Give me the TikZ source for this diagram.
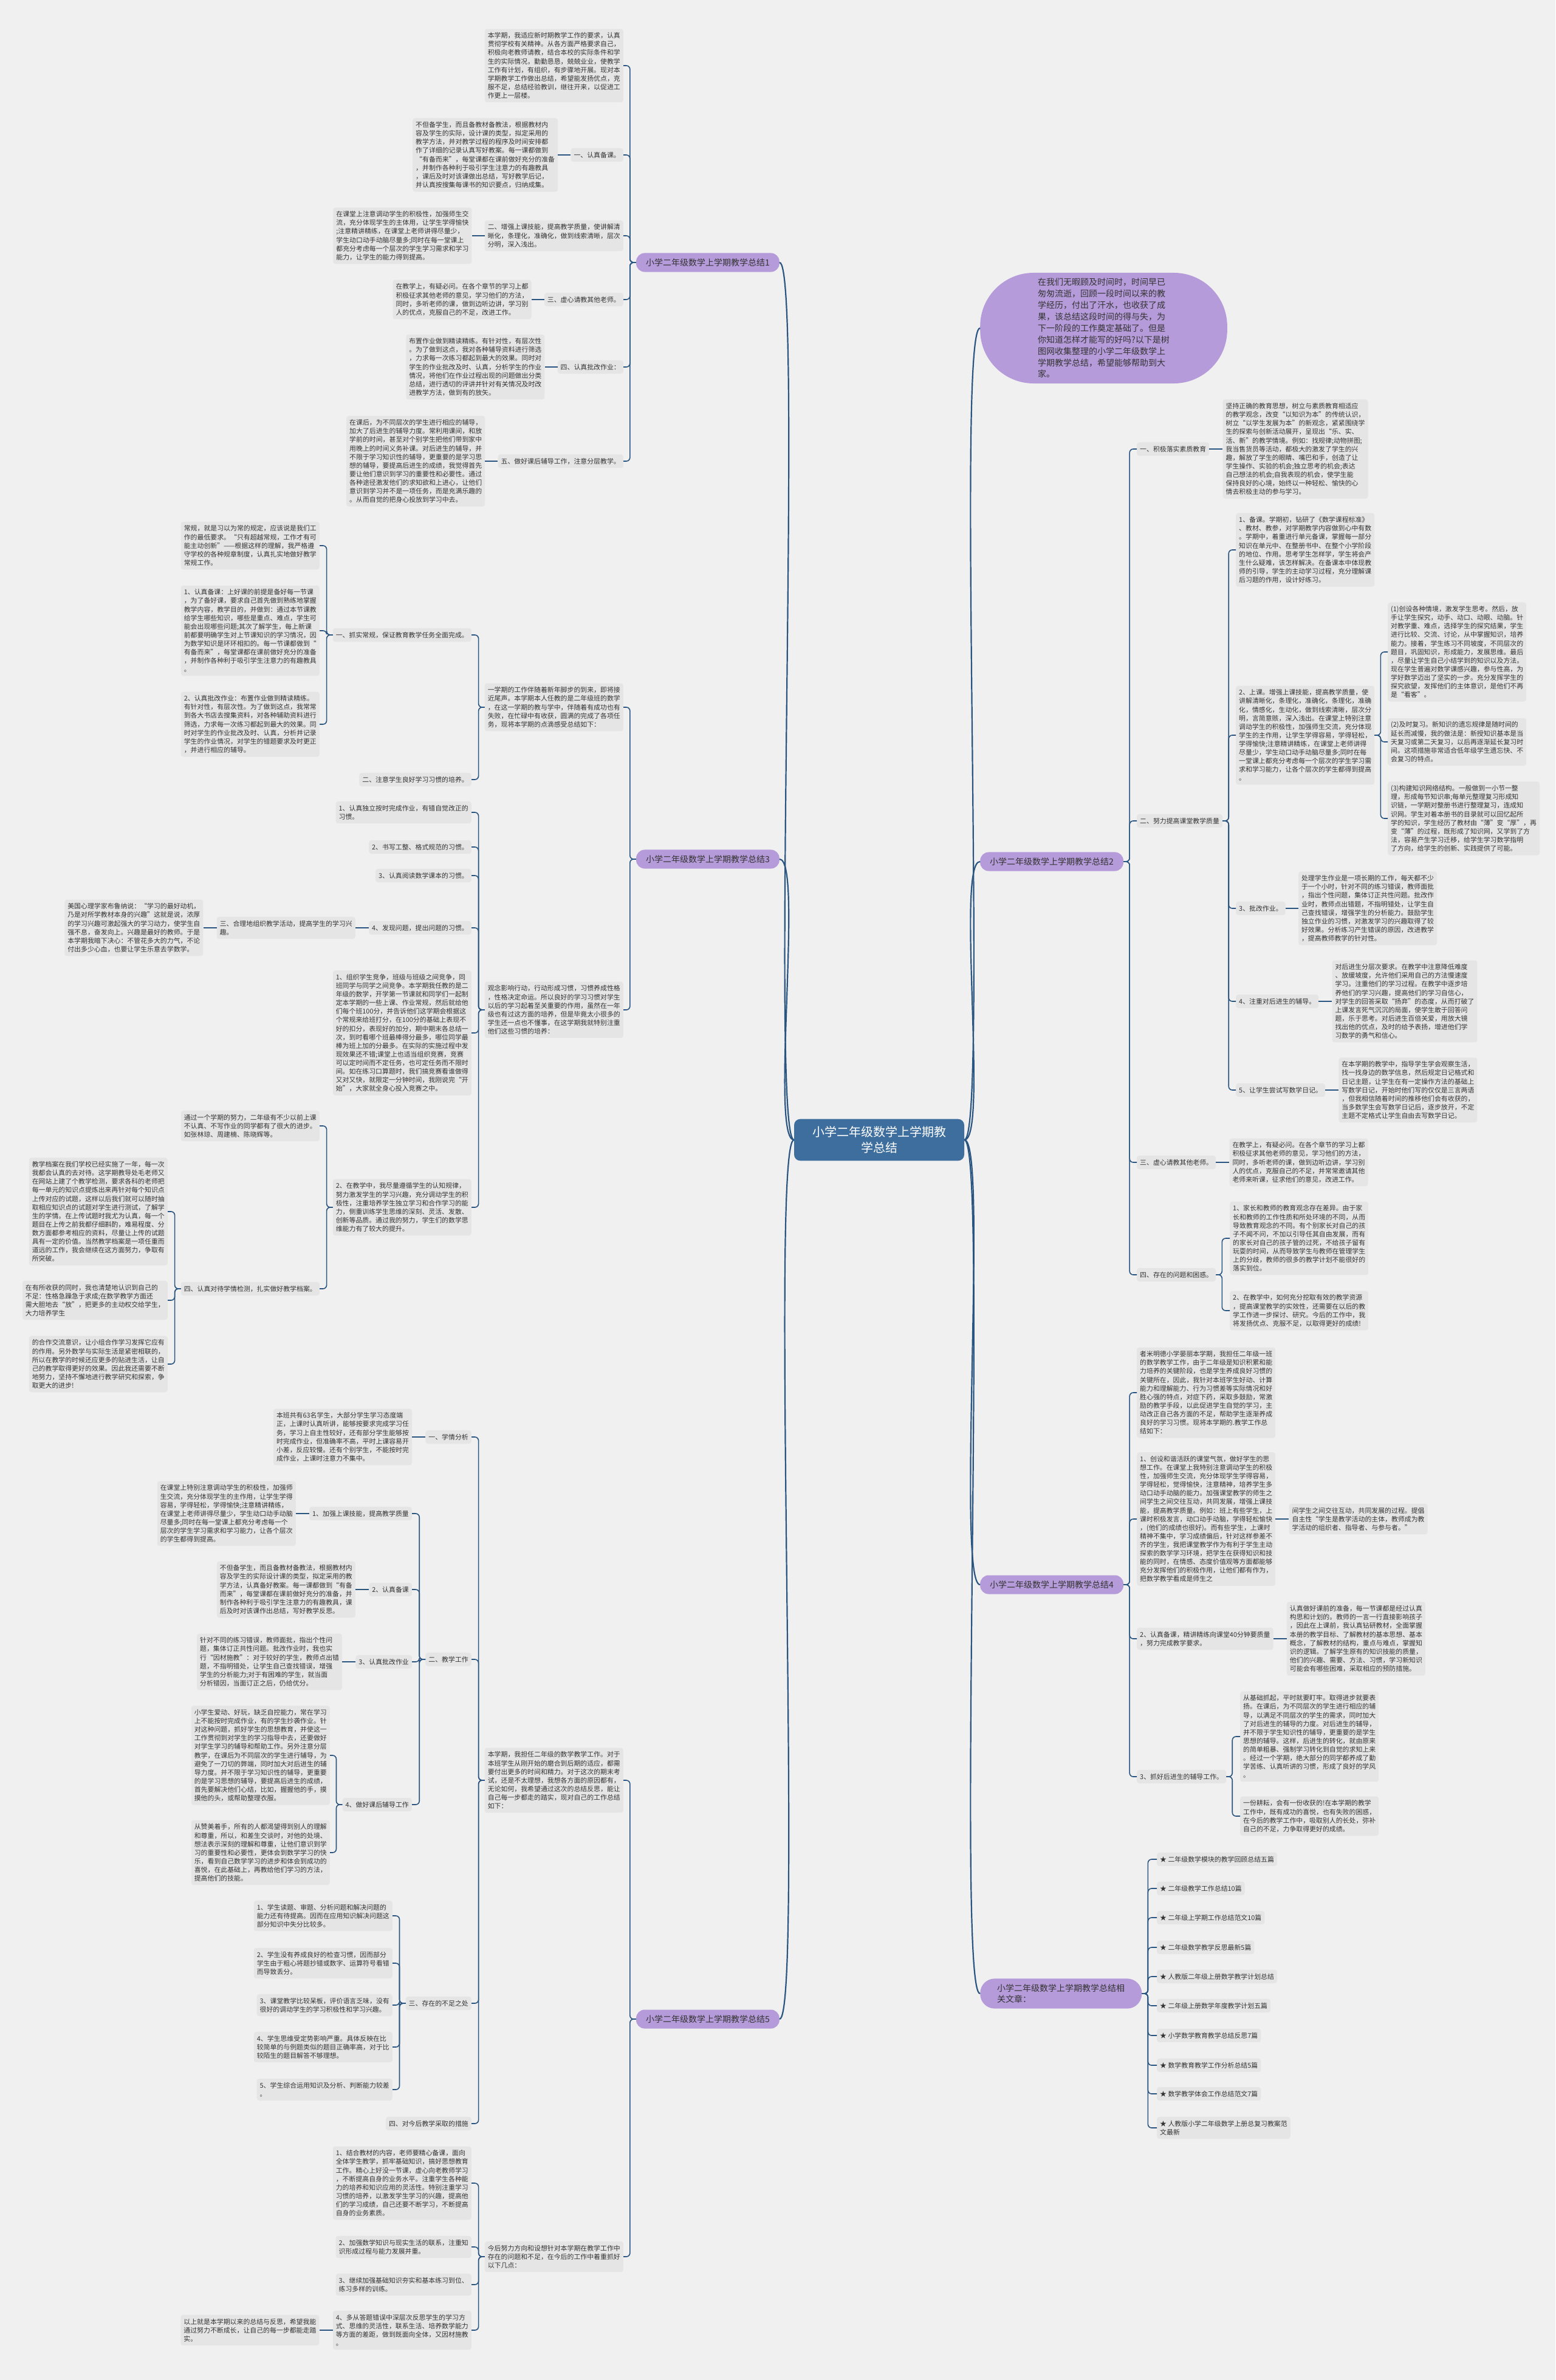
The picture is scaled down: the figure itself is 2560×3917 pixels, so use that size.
\documentclass[tikz,border=0pt]{standalone}
\usepackage{fontspec}
\newfontfamily\cjk{Noto Sans CJK SC}
\definecolor{bgc}{HTML}{F0F0F0}
\definecolor{boxc}{HTML}{E5E5E5}
\definecolor{txt}{HTML}{333333}
\definecolor{lc}{HTML}{2A5580}
\definecolor{purp}{HTML}{B59BD9}
\definecolor{rootc}{HTML}{3E6E9E}
\newcommand\tbf{\cjk\fontsize{10.9bp}{14.1bp}\selectfont}
\newcommand\brf{\cjk\fontsize{14bp}{18.6bp}\selectfont}
\newcommand\rtf{\cjk\fontsize{20bp}{26bp}\selectfont}
\tikzset{
 tb/.style={fill=boxc, rounded corners=4bp, inner xsep=5bp, inner ysep=6bp, align=left, font=\tbf, text=txt},
 brn/.style={fill=purp, rounded corners=14bp, inner xsep=16bp, inner ysep=9bp, align=left, font=\brf, text=txt},
 conn/.style={draw=lc, line width=1.6bp, rounded corners=6bp},
 rcn/.style={draw=lc, line width=2.2bp},
}
\newcommand\lnk[2]{\draw[conn] (#1.west) -- ++(-10,0) |- (#2.east);}
\newcommand\rnk[2]{\draw[conn] (#1.east) -- ++(10,0) |- (#2.west);}
\newcommand\lsg[2]{\draw[conn] (#1.west) -- (#2.east);}
\newcommand\rsg[2]{\draw[conn] (#1.east) -- (#2.west);}
\begin{document}
\begin{tikzpicture}[x=1bp,y=-1bp]
\fill[bgc] (0,0) rectangle (2560,3917);
\useasboundingbox (0,0) rectangle (2560,3917);

% ---------- root ----------
\node[fill=rootc, rounded corners=10bp, inner xsep=30bp, inner ysep=12bp, align=center, font=\rtf, text=white] (root) at (1447,1876) {小学二年级数学上学期教\\学总结};

% ---------- branch 1 ----------
\node[brn, anchor=east] (b1) at (1283,432) {小学二年级数学上学期教学总结1};
\node[tb, anchor=east] (b1a) at (1026,108) {本学期，我适应新时期教学工作的要求，认真\\贯彻学校有关精神。从各方面严格要求自己，\\积极向老教师请教，结合本校的实际条件和学\\生的实际情况，勤勤恳恳，兢兢业业，使教学\\工作有计划，有组织，有步骤地开展。现对本\\学期教学工作做出总结，希望能发扬优点，克\\服不足，总结经验教训，继往开来，以促进工\\作更上一层楼。};
\node[tb, anchor=east] (b1b) at (1026,255) {一、认真备课。};
\node[tb, anchor=east] (b1bc) at ([xshift=-21bp]b1b.west) {不但备学生，而且备教材备教法，根据教材内\\容及学生的实际，设计课的类型，拟定采用的\\教学方法，并对教学过程的程序及时间安排都\\作了详细的记录认真写好教案。每一课都做到\\“有备而来”，每堂课都在课前做好充分的准备\\，并制作各种利于吸引学生注意力的有趣教具\\，课后及时对该课做出总结，写好教学后记，\\并认真按搜集每课书的知识要点，归纳成集。};
\node[tb, anchor=east] (b1c) at (1026,388) {二、增强上课技能，提高教学质量，使讲解清\\晰化，条理化，准确化，做到线索清晰，层次\\分明，深入浅出。};
\node[tb, anchor=east] (b1cc) at ([xshift=-21bp]b1c.west) {在课堂上注意调动学生的积极性，加强师生交\\流，充分体现学生的主体用，让学生学得愉快\\;注意精讲精练，在课堂上老师讲得尽量少，\\学生动口动手动脑尽量多;同时在每一堂课上\\都充分考虑每一个层次的学生学习需求和学习\\能力，让学生的能力得到提高。};
\node[tb, anchor=east] (b1d) at (1026,493) {三、虚心请教其他老师。};
\node[tb, anchor=east] (b1dc) at ([xshift=-21bp]b1d.west) {在教学上，有疑必问。在各个章节的学习上都\\积极征求其他老师的意见，学习他们的方法，\\同时，多听老师的课，做到边听边讲，学习别\\人的优点，克服自己的不足，改进工作。};
\node[tb, anchor=east] (b1e) at (1026,604) {四、认真批改作业：};
\node[tb, anchor=east] (b1ec) at ([xshift=-21bp]b1e.west) {布置作业做到精读精练。有针对性，有层次性\\。为了做到这点，我对各种辅导资料进行筛选\\，力求每一次练习都起到最大的效果。同时对\\学生的作业批改及时、认真，分析学生的作业\\情况，将他们在作业过程出现的问题做出分类\\总结，进行透切的评讲并针对有关情况及时改\\进教学方法，做到有的放矢。};
\node[tb, anchor=east] (b1f) at (1026,759) {五、做好课后辅导工作，注意分层教学。};
\node[tb, anchor=east] (b1fc) at ([xshift=-21bp]b1f.west) {在课后，为不同层次的学生进行相应的辅导，\\加大了后进生的辅导力度。常利用课间，和放\\学前的时间，甚至对个别学生把他们带到家中\\用晚上的时间义务补课。对后进生的辅导，并\\不限于学习知识性的辅导，更重要的是学习思\\想的辅导，要提高后进生的成绩，我觉得首先\\要让他们意识到学习的重要性和必要性。通过\\各种途径激发他们的求知欲和上进心，让他们\\意识到学习并不是一项任务，而是充满乐趣的\\。从而自觉的把身心投放到学习中去。};
\foreach \c in {b1a,b1b,b1c,b1d,b1e,b1f} {\lnk{b1}{\c}}
\lsg{b1b}{b1bc}\lsg{b1c}{b1cc}\lsg{b1d}{b1dc}\lsg{b1e}{b1ec}\lsg{b1f}{b1fc}

% ---------- branch 3 ----------
\node[brn, anchor=east] (b3) at (1283,1414) {小学二年级数学上学期教学总结3};
\node[tb, anchor=east] (b3a) at (1026,1164) {一学期的工作伴随着新年脚步的到来，即将接\\近尾声。本学期本人任教的是二年级班的数学\\，在这一学期的教与学中，伴随着有成功也有\\失败，在忙碌中有收获，圆满的完成了各项任\\务，现将本学期的点滴感受总结如下：};
\node[tb, anchor=east] (b3a1) at (776,1045) {一、抓实常规，保证教育教学任务全面完成。};
\node[tb, anchor=east] (b3a1a) at (526,898) {常规，就是习以为常的规定，应该说是我们工\\作的最低要求。“只有超越常规，工作才有可\\能主动创新”——根据这样的理解，我严格遵\\守学校的各种规章制度，认真扎实地做好教学\\常规工作。};
\node[tb, anchor=east] (b3a1b) at (526,1038) {1、认真备课：上好课的前提是备好每一节课\\，为了备好课，要求自己首先做到熟练地掌握\\教学内容，教学目的，并做到：通过本节课教\\给学生哪些知识，哪些是重点、难点，学生可\\能会出现哪些问题;其次了解学生，每上新课\\前都要明确学生对上节课知识的学习情况，因\\为数学知识是环环相扣的。每一节课都做到“\\有备而来”，每堂课都在课前做好充分的准备\\，并制作各种利于吸引学生注意力的有趣教具\\。};
\node[tb, anchor=east] (b3a1c) at (526,1192) {2、认真批改作业：布置作业做到精读精练。\\有针对性，有层次性。为了做到这点，我常常\\到各大书店去搜集资料，对各种辅助资料进行\\筛选，力求每一次练习都起到最大的效果。同\\时对学生的作业批改及时、认真，分析并记录\\学生的作业情况，对学生的错题要求及时更正\\，并进行相应的辅导。};
\node[tb, anchor=east] (b3a2) at (776,1283) {二、注意学生良好学习习惯的培养。};
\node[tb, anchor=east] (b3b) at (1026,1662) {观念影响行动，行动形成习惯，习惯养成性格\\，性格决定命运。所以良好的学习习惯对学生\\以后的学习起着至关重要的作用，虽然在一年\\级也有过这方面的培养，但是毕竟太小很多的\\学生还一点也不懂事，在这学期我就特别注重\\他们这些习惯的培养：};
\node[tb, anchor=east] (b3b1) at (776,1337) {1、认真独立按时完成作业，有错自觉改正的\\习惯。};
\node[tb, anchor=east] (b3b2) at (776,1394) {2、书写工整、格式规范的习惯。};
\node[tb, anchor=east] (b3b3) at (776,1441) {3、认真阅读数学课本的习惯。};
\node[tb, anchor=east] (b3b4) at (776,1527) {4、发现问题，提出问题的习惯。};
\node[tb, anchor=east] (b3b4c) at ([xshift=-22bp]b3b4.west) {三、合理地组织教学活动，提高学生的学习兴\\趣。};
\node[tb, anchor=east] (b3b4cc) at ([xshift=-22bp]b3b4c.west) {美国心理学家布鲁纳说：“学习的最好动机，\\乃是对所学教材本身的兴趣”这就是说，浓厚\\的学习兴趣可激起强大的学习动力，使学生自\\强不息，奋发向上。兴趣是最好的教师。于是\\本学期我暗下决心：不管花多大的力气，不论\\付出多少心血，也要让学生乐意去学数学。};
\node[tb, anchor=east] (b3b5) at (776,1700) {1、组织学生竞争，班级与班级之间竞争，同\\班同学与同学之间竞争。本学期我任教的是二\\年级的数学，开学第一节课就和同学们一起制\\定本学期的一些上课、作业常规，然后就给他\\们每个班100分，并告诉他们这学期会根据这\\个常规来给班打分，在100分的基础上表现不\\好的扣分，表现好的加分，期中期末各总结一\\次，到时看哪个班最棒得分最多，哪位同学最\\棒为班上加的分最多。在实际的实施过程中发\\现效果还不错;课堂上也适当组织竞赛，竞赛\\可以定时间而不定任务，也可定任务而不限时\\间。如在练习口算题时，我们搞竞赛看谁做得\\又对又快，就限定一分钟时间，我刚说完“开\\始”，大家就全身心投入竞赛之中。};
\node[tb, anchor=east] (b3b6) at (776,1987) {2、在教学中，我尽量遵循学生的认知规律，\\努力激发学生的学习兴趣，充分调动学生的积\\极性，注重培养学生独立学习和合作学习的能\\力，侧重训练学生思维的深刻、灵活、发散、\\创新等品质。通过我的努力，学生们的数学思\\维能力有了较大的提升。};
\node[tb, anchor=east] (b3b6a) at (526,1853) {通过一个学期的努力，二年级有不少以前上课\\不认真、不写作业的同学都有了很大的进步。\\如张林琼、周建楠、陈晓辉等。};
\node[tb, anchor=east] (b3b6b) at (526,2121) {四、认真对待学情检测，扎实做好教学档案。};
\node[tb, anchor=east] (b3b6b1) at (276,1994) {教学档案在我们学校已经实施了一年，每一次\\我都会认真的去对待。这学期教导处毛老师又\\在网站上建了个教学检测，要求各科的老师把\\每一单元的知识点提炼出来再针对每个知识点\\上传对应的试题，这样以后我们就可以随时抽\\取相应知识点的试题对学生进行测试，了解学\\生的学情。在上传试题时我尤为认真，每一个\\题目在上传之前我都仔细斟酌，难易程度、分\\数方面都参考相应的资料，尽量让上传的试题\\具有一定的价值。当然教学档案是一项任重而\\道远的工作，我会继续在这方面努力，争取有\\所突破。};
\node[tb, anchor=east] (b3b6b2) at (276,2140) {在有所收获的同时，我也清楚地认识到自己的\\不足：性格急躁急于求成;在数学教学方面还\\需大胆地去“放”，把更多的主动权交给学生，\\大力培养学生};
\node[tb, anchor=east] (b3b6b3) at (276,2245) {的合作交流意识，让小组合作学习发挥它应有\\的作用。另外数学与实际生活是紧密相联的，\\所以在教学的时候还应更多的贴进生活，让自\\己的教学取得更好的效果。因此我还需要不断\\地努力，坚持不懈地进行教学研究和探索，争\\取更大的进步!};
\foreach \c in {b3a,b3b} {\lnk{b3}{\c}}
\foreach \c in {b3a1,b3a2} {\lnk{b3a}{\c}}
\foreach \c in {b3a1a,b3a1b,b3a1c} {\lnk{b3a1}{\c}}
\foreach \c in {b3b1,b3b2,b3b3,b3b4,b3b5,b3b6} {\lnk{b3b}{\c}}
\lsg{b3b4}{b3b4c}\lsg{b3b4c}{b3b4cc}
\foreach \c in {b3b6a,b3b6b} {\lnk{b3b6}{\c}}
\foreach \c in {b3b6b1,b3b6b2,b3b6b3} {\lnk{b3b6b}{\c}}

% ---------- branch 5 ----------
\node[brn, anchor=east] (b5) at (1283,3323) {小学二年级数学上学期教学总结5};
\node[tb, anchor=east] (b5a) at (1026,2930) {本学期，我担任二年级的数学教学工作。对于\\本班学生从刚开始的磨合到后期的适应，都需\\要付出更多的时间和精力。对于这次的期末考\\试，还是不太理想，我想各方面的原因都有，\\无论如何，我希望通过这次的总结反思，能让\\自己每一步都走的踏实，现对自己的工作总结\\如下：};
\node[tb, anchor=east] (b5a1) at (776,2365) {一、学情分析};
\node[tb, anchor=east] (b5a1c) at ([xshift=-22bp]b5a1.west) {本班共有63名学生，大部分学生学习态度端\\正，上课时认真听讲，能够按要求完成学习任\\务，学习上自主性较好，还有部分学生能够按\\时完成作业，但准确率不高，平时上课容易开\\小差，反应较慢。还有个别学生，不能按时完\\成作业，上课时注意力不集中。};
\node[tb, anchor=east] (b5a2) at (776,2731) {二、教学工作};
\node[tb, anchor=east] (b5a2a) at (678,2491) {1、加强上课技能，提高教学质量};
\node[tb, anchor=east] (b5a2ac) at ([xshift=-22bp]b5a2a.west) {在课堂上特别注意调动学生的积极性，加强师\\生交流，充分体现学生的主作用，让学生学得\\容易，学得轻松，学得愉快;注意精讲精练，\\在课堂上老师讲得尽量少，学生动口动手动脑\\尽量多;同时在每一堂课上都充分考虑每一个\\层次的学生学习需求和学习能力，让各个层次\\的学生都得到提高。};
\node[tb, anchor=east] (b5a2b) at (678,2616) {2、认真备课};
\node[tb, anchor=east] (b5a2bc) at ([xshift=-22bp]b5a2b.west) {不但备学生，而且备教材备教法，根据教材内\\容及学生的实际设计课的类型，拟定采用的教\\学方法，认真备好教案。每一课都做到“有备\\而来”，每堂课都在课前做好充分的准备，并\\制作各种利于吸引学生注意力的有趣教具，课\\后及时对该课作出总结，写好教学反思。};
\node[tb, anchor=east] (b5a2c) at (678,2735) {3、认真批改作业};
\node[tb, anchor=east] (b5a2cc) at ([xshift=-22bp]b5a2c.west) {针对不同的练习错误，教师面批，指出个性问\\题，集体订正共性问题。批改作业时，我也实\\行“因材施教”：对于较好的学生，教师点出错\\题，不指明错处，让学生自己查找错误，增强\\学生的分析能力;对于有困难的学生，就当面\\分析错因，当面订正之后，仍给优分。};
\node[tb, anchor=east] (b5a2d) at (678,2970) {4、做好课后辅导工作};
\node[tb, anchor=east] (b5a2d1) at (543,2889) {小学生爱动、好玩，缺乏自控能力，常在学习\\上不能按时完成作业，有的学生抄袭作业。针\\对这种问题，抓好学生的思想教育，并使这一\\工作贯彻到对学生的学习指导中去，还要做好\\对学生学习的辅导和帮助工作。另外注意分层\\教学，在课后为不同层次的学生进行辅导，为\\避免了一刀切的弊端，同时加大对后进生的辅\\导力度。并不限于学习知识性的辅导，更重要\\的是学习思想的辅导，要提高后进生的成绩，\\首先要解决他们心结，比如，握握他的手，摸\\摸他的头，或帮助整理衣服。};
\node[tb, anchor=east] (b5a2d2) at (543,3049) {从赞美着手，所有的人都渴望得到别人的理解\\和尊重，所以，和差生交谈时，对他的处境、\\想法表示深刻的理解和尊重，让他们意识到学\\习的重要性和必要性，更体会到数学学习的快\\乐，看到自己数学学习的进步和体会到成功的\\喜悦，在此基础上，再教给他们学习的方法，\\提高他们的技能。};
\node[tb, anchor=east] (b5a3) at (776,3297) {三、存在的不足之处};
\node[tb, anchor=east] (b5a3a) at (646,3153) {1、学生读题、审题、分析问题和解决问题的\\能力还有待提高。因而在应用知识解决问题这\\部分知识中失分比较多。};
\node[tb, anchor=east] (b5a3b) at (646,3231) {2、学生没有养成良好的检查习惯，因而部分\\学生由于粗心将题抄错或数字、运算符号看错\\而导致丢分。};
\node[tb, anchor=east] (b5a3c) at (646,3300) {3、课堂教学比较呆板，评价语言乏味，没有\\很好的调动学生的学习积极性和学习兴趣。};
\node[tb, anchor=east] (b5a3d) at (646,3369) {4、学生思维受定势影响严重。具体反映在比\\较简单的与例题类似的题目正确率高，对于比\\较陌生的题目解答不够理想。};
\node[tb, anchor=east] (b5a3e) at (646,3439) {5、学生综合运用知识及分析、判断能力较差\\。};
\node[tb, anchor=east] (b5a4) at (776,3495) {四、对今后教学采取的措施};
\node[tb, anchor=east] (b5b) at (1026,3714) {今后努力方向和设想针对本学期在教学工作中\\存在的问题和不足，在今后的工作中着重抓好\\以下几点：};
\node[tb, anchor=east] (b5b1) at (776,3593) {1、结合教材的内容，老师要精心备课，面向\\全体学生教学，抓牢基础知识，搞好思想教育\\工作。精心上好没一节课，虚心向老教师学习\\，不断提高自身的业务水平。注重学生各种能\\力的培养和知识应用的灵活性。特别注重学习\\习惯的培养，以激发学生学习的兴趣，提高他\\们的学习成绩，自己还要不断学习，不断提高\\自身的业务素质。};
\node[tb, anchor=east] (b5b2) at (776,3698) {2、加强数学知识与现实生活的联系，注重知\\识形成过程与能力发展并重。};
\node[tb, anchor=east] (b5b3) at (776,3760) {3、继续加强基础知识夯实和基本练习到位、\\练习多样的训练。};
\node[tb, anchor=east] (b5b4) at (776,3835) {4、多从答题错误中深层次反思学生的学习方\\式、思维的灵活性，联系生活、培养数学能力\\等方面的差距，做到既面向全体，又因材施教\\。};
\node[tb, anchor=east] (b5b4c) at ([xshift=-22bp]b5b4.west) {以上就是本学期以来的总结与反思，希望我能\\通过努力不断成长，让自己的每一步都能走踏\\实。};
\foreach \c in {b5a,b5b} {\lnk{b5}{\c}}
\foreach \c in {b5a1,b5a2,b5a3,b5a4} {\lnk{b5a}{\c}}
\lsg{b5a1}{b5a1c}
\foreach \c in {b5a2a,b5a2b,b5a2c,b5a2d} {\lnk{b5a2}{\c}}
\lsg{b5a2a}{b5a2ac}\lsg{b5a2b}{b5a2bc}\lsg{b5a2c}{b5a2cc}
\foreach \c in {b5a2d1,b5a2d2} {\lnk{b5a2d}{\c}}
\foreach \c in {b5a3a,b5a3b,b5a3c,b5a3d,b5a3e} {\lnk{b5a3}{\c}}
\foreach \c in {b5b1,b5b2,b5b3,b5b4} {\lnk{b5b}{\c}}
\lsg{b5b4}{b5b4c}

% ---------- bubble ----------
\node[fill=purp, rounded corners=88bp, inner xsep=95bp, inner ysep=9bp, align=left, font={\cjk\fontsize{14bp}{18.9bp}\selectfont}, text=txt, anchor=west] (bub) at (1613,540) {在我们无暇顾及时间时，时间早已\\匆匆流逝，回顾一段时间以来的教\\学经历，付出了汗水，也收获了成\\果，该总结这段时间的得与失，为\\下一阶段的工作奠定基础了。但是\\你知道怎样才能写的好吗?以下是树\\图网收集整理的小学二年级数学上\\学期教学总结，希望能够帮助到大\\家。};

% ---------- branch 2 ----------
\node[brn, anchor=west] (b2) at (1613,1418) {小学二年级数学上学期教学总结2};
\node[tb, anchor=west] (b2a) at (1871,739) {一、积极落实素质教育};
\node[tb, anchor=west] (b2ac) at ([xshift=22bp]b2a.east) {坚持正确的教育思想，树立与素质教育相适应\\的教学观念，改变“以知识为本”的传统认识，\\树立“以学生发展为本”的新观念，紧紧围绕学\\生的探索与创新活动展开，呈现出“乐、实、\\活、新”的教学情境。例如：找规律;动物拼图;\\我当售货员等活动，都极大的激发了学生的兴\\趣，解放了学生的眼睛、嘴巴和手，创造了让\\学生操作、实验的机会;独立思考的机会;表达\\自己想法的机会;自我表现的机会，使学生能\\保持良好的心境，始终以一种轻松、愉快的心\\情去积极主动的参与学习。};
\node[tb, anchor=west] (b2b) at (1871,1351) {二、努力提高课堂教学质量};
\node[tb, anchor=west] (b2b1) at (2034,905) {1、备课。学期初，钻研了《数学课程标准》\\、教材、教参，对学期教学内容做到心中有数\\。学期中，着重进行单元备课，掌握每一部分\\知识在单元中、在整册书中、在整个小学阶段\\的地位、作用。思考学生怎样学，学生将会产\\生什么疑难，该怎样解决。在备课本中体现教\\师的引导，学生的主动学习过程，充分理解课\\后习题的作用，设计好练习。};
\node[tb, anchor=west] (b2b2) at (2034,1210) {2、上课。增强上课技能，提高教学质量，使\\讲解清晰化，条理化，准确化，条理化，准确\\化，情感化，生动化，做到线索清晰，层次分\\明，言简意赅，深入浅出。在课堂上特别注意\\调动学生的积极性，加强师生交流，充分体现\\学生的主作用，让学生学得容易，学得轻松，\\学得愉快;注意精讲精练，在课堂上老师讲得\\尽量少，学生动口动手动脑尽量多;同时在每\\一堂课上都充分考虑每一个层次的学生学习需\\求和学习能力，让各个层次的学生都得到提高\\。};
\node[tb, anchor=west] (b2b2a) at (2284,1073) {(1)创设各种情境，激发学生思考。然后，放\\手让学生探究，动手、动口、动眼、动脑。针\\对教学重、难点，选择学生的探究结果，学生\\进行比较、交流、讨论，从中掌握知识，培养\\能力。接着，学生练习不同坡度，不同层次的\\题目，巩固知识，形成能力，发展思维。最后\\，尽量让学生自己小结学到的知识以及方法。\\现在学生普遍对数学课感兴趣，参与性高，为\\学好数学迈出了坚实的一步。充分发挥学生的\\探究欲望，发挥他们的主体意识，是他们不再\\是“看客”。};
\node[tb, anchor=west] (b2b2b) at (2284,1221) {(2)及时复习。新知识的遗忘规律是随时间的\\延长而减慢，我的做法是：新授知识基本是当\\天复习或第二天复习，以后再逐渐延长复习时\\间。这项措施非常适合低年级学生遗忘快、不\\会复习的特点。};
\node[tb, anchor=west] (b2b2c) at (2284,1347) {(3)构建知识网络结构。一般做到一小节一整\\理，形成每节知识串;每单元整理复习形成知\\识链，一学期对整册书进行整理复习，连成知\\识网。学生对着本册书的目录就可以回忆起所\\学的知识，学生经历了教材由“薄”变“厚”，再\\变“薄”的过程，既形成了知识网，又学到了方\\法，容易产生学习迁移，给学生学习数学指明\\了方向，给学生的创新、实践提供了可能。};
\node[tb, anchor=west] (b2b3) at (2034,1495) {3、批改作业。};
\node[tb, anchor=west] (b2b3c) at ([xshift=21bp]b2b3.east) {处理学生作业是一项长期的工作，每天都不少\\于一个小时，针对不同的练习错误，教师面批\\，指出个性问题，集体订正共性问题。批改作\\业时，教师点出错题，不指明错处，让学生自\\己查找错误，增强学生的分析能力。鼓励学生\\独立作业的习惯，对激发学习的兴趣取得了较\\好效果。分析练习产生错误的原因，改进教学\\，提高教师教学的针对性。};
\node[tb, anchor=west] (b2b4) at (2034,1648) {4、注重对后进生的辅导。};
\node[tb, anchor=west] (b2b4c) at ([xshift=22bp]b2b4.east) {对后进生分层次要求。在教学中注意降低难度\\、放缓坡度，允许他们采用自己的方法慢速度\\学习。注重他们的学习过程。在教学中逐步培\\养他们的学习兴趣，提高他们的学习自信心，\\对学生的回答采取“扬弃”的态度，从而打破了\\上课发言死气沉沉的局面，使学生敢于回答问\\题，乐于思考。对后进生百倍关爱，用放大镜\\找出他的优点，及时的给予表扬，增进他们学\\习数学的勇气和信心。};
\node[tb, anchor=west] (b2b5) at (2034,1794) {5、让学生尝试写数学日记。};
\node[tb, anchor=west] (b2b5c) at ([xshift=22bp]b2b5.east) {在本学期的教学中，指导学生学会观察生活，\\找一找身边的数学信息，然后规定日记格式和\\日记主题，让学生在有一定操作方法的基础上\\写数学日记，开始时他们写的仅仅是三言两语\\，但我相信随着时间的推移他们会有收获的，\\当多数学生会写数学日记后，逐步放开，不定\\主题不定格式让学生自由去写数学日记。};
\node[tb, anchor=west] (b2c) at (1871,1913) {三、虚心请教其他老师。};
\node[tb, anchor=west] (b2cc) at ([xshift=22bp]b2c.east) {在教学上，有疑必问。在各个章节的学习上都\\积极征求其他老师的意见，学习他们的方法，\\同时，多听老师的课，做到边听边讲，学习别\\人的优点，克服自己的不足，并常常邀请其他\\老师来听课，征求他们的意见，改进工作。};
\node[tb, anchor=west] (b2d) at (1871,2098) {四、存在的问题和困惑。};
\node[tb, anchor=west] (b2d1) at (2024,2038) {1、家长和教师的教育观念存在差异。由于家\\长和教师的工作性质和所处环境的不同，从而\\导致教育观念的不同。有个别家长对自己的孩\\子不闻不问，不加以引导任其自由发展，而有\\的家长对自己的孩子管的过死，不给孩子留有\\玩耍的时间，从而导致学生与教师在管理学生\\上的分歧，教师的很多的教学计划不能很好的\\落实到位。};
\node[tb, anchor=west] (b2d2) at (2024,2157) {2、在教学中，如何充分挖取有效的教学资源\\，提高课堂教学的实效性，还需要在以后的教\\学工作进一步探讨、研究。今后的工作中，我\\将发扬优点、克服不足，以取得更好的成绩!};
\foreach \c in {b2a,b2b,b2c,b2d} {\rnk{b2}{\c}}
\rsg{b2a}{b2ac}
\foreach \c in {b2b1,b2b2,b2b3,b2b4,b2b5} {\rnk{b2b}{\c}}
\foreach \c in {b2b2a,b2b2b,b2b2c} {\rnk{b2b2}{\c}}
\rsg{b2b3}{b2b3c}\rsg{b2b4}{b2b4c}\rsg{b2b5}{b2b5c}\rsg{b2c}{b2cc}
\foreach \c in {b2d1,b2d2} {\rnk{b2d}{\c}}

% ---------- branch 4 ----------
\node[brn, anchor=west] (b4) at (1613,2608) {小学二年级数学上学期教学总结4};
\node[tb, anchor=west] (b4a) at (1871,2292) {者米明德小学晏丽本学期，我担任二年级一班\\的数学教学工作，由于二年级是知识积累和能\\力培养的关键阶段，也是学生养成良好习惯的\\关键所在，因此，我针对本班学生好动、计算\\能力和理解能力、行为习惯差等实际情况和好\\胜心强的特点，对症下药，采取多鼓励，常激\\励的教学手段，以此促进学生自觉的学习，主\\动改正自己各方面的不足，帮助学生逐渐养成\\良好的学习习惯。现将本学期的.教学工作总\\结如下：};
\node[tb, anchor=west] (b4b) at (1871,2500) {1、创设和谐活跃的课堂气氛，做好学生的思\\想工作。在课堂上我特别注意调动学生的积极\\性，加强师生交流，充分体现学生学得容易，\\学得轻松，觉得愉快，注意精神，培养学生多\\动口动手动脑的能力。加强课堂教学的师生之\\间学生之间交往互动，共同发展，增强上课技\\能，提高教学质量。例如：班上有些学生，上\\课时积极发言，动口动手动脑，学得轻松愉快\\，(他们的成绩也很好)。而有些学生，上课时\\精神不集中，学习成绩偏后，针对这样参差不\\齐的学生，我把课堂教学作为有利于学生主动\\探索的数学学习环境，把学生在获得知识和技\\能的同时，在情感、态度价值观等方面都能够\\充分发挥他们的积极作用，让他们都有作为，\\把数学教学看成是师生之};
\node[tb, anchor=west] (b4bc) at ([xshift=22bp]b4b.east) {间学生之间交往互动，共同发展的过程。提倡\\自主性“学生是教学活动的主体，教师成为教\\学活动的组织者、指导者、与参与者。”};
\node[tb, anchor=west] (b4c) at (1871,2697) {2、认真备课，精讲精练向课堂40分钟要质量\\，努力完成教学要求。};
\node[tb, anchor=west] (b4cc) at ([xshift=22bp]b4c.east) {认真做好课前的准备，每一节课都是经过认真\\构思和计划的。教师的一言一行直接影响孩子\\，因此在上课前，我认真钻研教材，全面掌握\\本册的教学目标、了解教材的基本思想、基本\\概念，了解教材的结构，重点与难点，掌握知\\识的逻辑。了解学生原有的知识技能的质量，\\他们的兴趣、需要、方法、习惯，学习新知识\\可能会有哪些困难，采取相应的预防措施。};
\node[tb, anchor=west] (b4d) at (1871,2924) {3、抓好后进生的辅导工作。};
\node[tb, anchor=west] (b4d1) at (2041,2858) {从基础抓起，平时就要盯牢。取得进步就要表\\扬。在课后，为不同层次的学生进行相应的辅\\导，以满足不同层次的学生的需求，同时加大\\了对后进生的辅导的力度。对后进生的辅导，\\并不限于学生知识性的辅导，更重要的是学生\\思想的辅导。这样，后进生的转化，就由原来\\的简单粗暴、强制学习转化到自觉的求知上来\\。经过一个学期，绝大部分的同学都养成了勤\\学苦练、认真听讲的习惯，形成了良好的学风\\。};
\node[tb, anchor=west] (b4d2) at (2041,2989) {一份耕耘，会有一份收获的!在本学期的教学\\工作中，既有成功的喜悦，也有失败的困惑，\\在今后的教学工作中，吸取别人的长处，弥补\\自己的不足，力争取得更好的成绩。};
\foreach \c in {b4a,b4b,b4c,b4d} {\rnk{b4}{\c}}
\rsg{b4b}{b4bc}\rsg{b4c}{b4cc}
\foreach \c in {b4d1,b4d2} {\rnk{b4d}{\c}}

% ---------- related ----------
\node[fill=purp, rounded corners=24bp, inner xsep=28bp, inner ysep=9bp, align=left, font={\cjk\fontsize{14bp}{18.3bp}\selectfont}, text=txt, anchor=west] (rel) at (1613,3281) {小学二年级数学上学期教学总结相\\关文章：};
\node[tb, anchor=west] (r1) at (1904,3060) {★ 二年级数学模块的教学回顾总结五篇};
\node[tb, anchor=west] (r2) at (1904,3108) {★ 二年级教学工作总结10篇};
\node[tb, anchor=west] (r3) at (1904,3156) {★ 二年级上学期工作总结范文10篇};
\node[tb, anchor=west] (r4) at (1904,3205) {★ 二年级数学教学反思最新5篇};
\node[tb, anchor=west] (r5) at (1904,3253) {★ 人教版二年级上册数学教学计划总结};
\node[tb, anchor=west] (r6) at (1904,3301) {★ 二年级上册数学年度教学计划五篇};
\node[tb, anchor=west] (r7) at (1904,3350) {★ 小学数学教育教学总结反思7篇};
\node[tb, anchor=west] (r8) at (1904,3399) {★ 数学教育教学工作分析总结5篇};
\node[tb, anchor=west] (r9) at (1904,3446) {★ 数学教学体会工作总结范文7篇};
\node[tb, anchor=west] (r10) at (1904,3502) {★ 人教版小学二年级数学上册总复习教案范\\文最新};
\foreach \c in {r1,r2,r3,r4,r5,r6,r7,r8,r9,r10} {\rnk{rel}{\c}}

% ---------- root connectors ----------
\foreach \b in {b1,b3,b5} {\draw[rcn] (root.west) .. controls +(-40,0) and +(40,0) .. (\b.east);}
\foreach \b in {bub,b2,b4,rel} {\draw[rcn] (root.east) .. controls +(40,0) and +(-40,0) .. (\b.west);}
\end{tikzpicture}
\end{document}
